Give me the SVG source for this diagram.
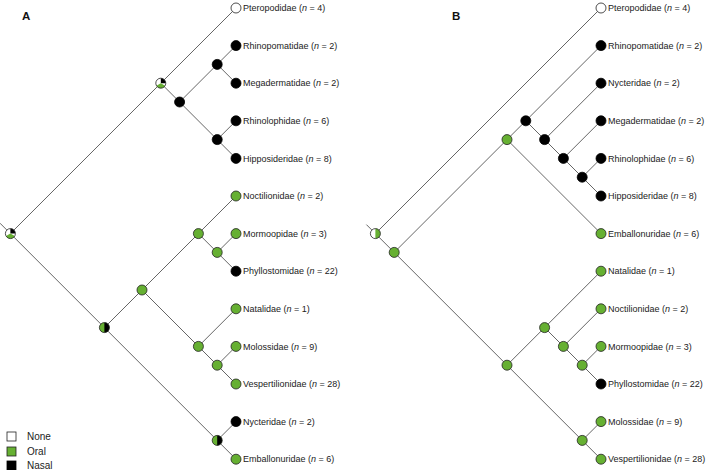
<svg xmlns="http://www.w3.org/2000/svg" xmlns:xlink="http://www.w3.org/1999/xlink" width="709" height="470" viewBox="0 0 709 470">
<style>
.e{stroke:#555;stroke-width:0.9;fill:none}
.lb{font-family:"Liberation Sans",Arial,sans-serif;font-size:9px;fill:#222}
.lg{font-family:"Liberation Sans",Arial,sans-serif;font-size:10px;fill:#222}
.pn{font-family:"Liberation Sans",Arial,sans-serif;font-size:11.5px;font-weight:bold;fill:#111}
.i{font-style:italic}
.ol{fill:none;stroke:#222;stroke-width:0.8}
</style>
<defs>
<g id="nW"><circle r="5" fill="#fff" stroke="#222" stroke-width="0.8"/></g>
<g id="nG"><circle r="5" fill="#66b032" stroke="#222" stroke-width="0.8"/></g>
<g id="nB"><circle r="5" fill="#000" stroke="#000" stroke-width="0.8"/></g>
<g id="nP3"><circle r="5" fill="#fff"/><path d="M0,0 L0,-5 A5,5 0 0 1 5,0 Z" fill="#000"/><path d="M0,0 L4.33,2.5 A5,5 0 0 1 -4.33,2.5 Z" fill="#66b032"/><circle r="5" class="ol"/></g>
<g id="nGB"><circle r="5" fill="#66b032"/><path d="M0,-5 A5,5 0 0 1 0,5 Z" fill="#000"/><circle r="5" class="ol"/></g>
<g id="nWG"><circle r="5" fill="#fff"/><path d="M0,-5 A5,5 0 0 1 0,5 Z" fill="#66b032"/><circle r="5" class="ol"/></g>
</defs>
<rect width="709" height="470" fill="#fff"/>
<text class="pn" x="22" y="20">A</text>
<text class="pn" x="452" y="20">B</text>
<g id="connectors">
<path class="e" d="M0,223.2 L10.4,233.6 L160.8,83.2 L236,8 M160.8,83.2 L179.6,102 L217.2,64.4 L236,45.6 M217.2,64.4 L236,83.2 M179.6,102 L217.2,139.6 L236,120.8 M217.2,139.6 L236,158.4 M10.4,233.6 L104.4,327.6 L142,290 L198.4,233.6 L236,196 M198.4,233.6 L217.2,252.4 L236,233.6 M217.2,252.4 L236,271.2 M142,290 L198.4,346.4 L236,308.8 M198.4,346.4 L217.2,365.2 L236,346.4 M217.2,365.2 L236,384 M104.4,327.6 L217.2,440.4 L236,421.6 M217.2,440.4 L236,459.2"/>
<path class="e" d="M366.4,224.6 L375.4,233.6 L601,8 M375.4,233.6 L394.2,252.4 L507,139.6 L525.8,120.8 L601,45.6 M525.8,120.8 L544.6,139.6 L601,83.2 M544.6,139.6 L563.4,158.4 L601,120.8 M563.4,158.4 L582.2,177.2 L601,158.4 M582.2,177.2 L601,196 M507,139.6 L601,233.6 M394.2,252.4 L507,365.2 L544.6,327.6 L601,271.2 M544.6,327.6 L563.4,346.4 L601,308.8 M563.4,346.4 L582.2,365.2 L601,346.4 M582.2,365.2 L601,384 M507,365.2 L582.2,440.4 L601,421.6 M582.2,440.4 L601,459.2"/>
</g>
<g id="treeA-internal">
<use id="A-root" xlink:href="#nP3" x="10.4" y="233.6"/>
<use id="A-n4" xlink:href="#nP3" x="160.8" y="83.2"/>
<use id="A-n3" xlink:href="#nB" x="179.6" y="102"/>
<use id="A-n1" xlink:href="#nB" x="217.2" y="64.4"/>
<use id="A-n2" xlink:href="#nB" x="217.2" y="139.6"/>
<use id="A-n11" xlink:href="#nGB" x="104.4" y="327.6"/>
<use id="A-n9" xlink:href="#nG" x="142" y="290"/>
<use id="A-n6" xlink:href="#nG" x="198.4" y="233.6"/>
<use id="A-n5" xlink:href="#nG" x="217.2" y="252.4"/>
<use id="A-n8" xlink:href="#nG" x="198.4" y="346.4"/>
<use id="A-n7" xlink:href="#nG" x="217.2" y="365.2"/>
<use id="A-n10" xlink:href="#nGB" x="217.2" y="440.4"/>
</g>
<g id="A-Pteropodidae"><use xlink:href="#nW" x="236" y="8"/><text class="lb" x="243" y="11.2">Pteropodidae (<tspan class="i">n</tspan> = 4)</text></g>
<g id="A-Rhinopomatidae"><use xlink:href="#nB" x="236" y="45.6"/><text class="lb" x="243" y="48.8">Rhinopomatidae (<tspan class="i">n</tspan> = 2)</text></g>
<g id="A-Megadermatidae"><use xlink:href="#nB" x="236" y="83.2"/><text class="lb" x="243" y="86.4">Megadermatidae (<tspan class="i">n</tspan> = 2)</text></g>
<g id="A-Rhinolophidae"><use xlink:href="#nB" x="236" y="120.8"/><text class="lb" x="243" y="124">Rhinolophidae (<tspan class="i">n</tspan> = 6)</text></g>
<g id="A-Hipposideridae"><use xlink:href="#nB" x="236" y="158.4"/><text class="lb" x="243" y="161.6">Hipposideridae (<tspan class="i">n</tspan> = 8)</text></g>
<g id="A-Noctilionidae"><use xlink:href="#nG" x="236" y="196"/><text class="lb" x="243" y="199.2">Noctilionidae (<tspan class="i">n</tspan> = 2)</text></g>
<g id="A-Mormoopidae"><use xlink:href="#nG" x="236" y="233.6"/><text class="lb" x="243" y="236.8">Mormoopidae (<tspan class="i">n</tspan> = 3)</text></g>
<g id="A-Phyllostomidae"><use xlink:href="#nB" x="236" y="271.2"/><text class="lb" x="243" y="274.4">Phyllostomidae (<tspan class="i">n</tspan> = 22)</text></g>
<g id="A-Natalidae"><use xlink:href="#nG" x="236" y="308.8"/><text class="lb" x="243" y="312">Natalidae (<tspan class="i">n</tspan> = 1)</text></g>
<g id="A-Molossidae"><use xlink:href="#nG" x="236" y="346.4"/><text class="lb" x="243" y="349.6">Molossidae (<tspan class="i">n</tspan> = 9)</text></g>
<g id="A-Vespertilionidae"><use xlink:href="#nG" x="236" y="384"/><text class="lb" x="243" y="387.2">Vespertilionidae (<tspan class="i">n</tspan> = 28)</text></g>
<g id="A-Nycteridae"><use xlink:href="#nB" x="236" y="421.6"/><text class="lb" x="243" y="424.8">Nycteridae (<tspan class="i">n</tspan> = 2)</text></g>
<g id="A-Emballonuridae"><use xlink:href="#nG" x="236" y="459.2"/><text class="lb" x="243" y="462.4">Emballonuridae (<tspan class="i">n</tspan> = 6)</text></g>
<g id="treeB-internal">
<use id="B-root" xlink:href="#nWG" x="375.4" y="233.6"/>
<use id="B-n11" xlink:href="#nG" x="394.2" y="252.4"/>
<use id="B-n5" xlink:href="#nG" x="507" y="139.6"/>
<use id="B-n4" xlink:href="#nB" x="525.8" y="120.8"/>
<use id="B-n3" xlink:href="#nB" x="544.6" y="139.6"/>
<use id="B-n2" xlink:href="#nB" x="563.4" y="158.4"/>
<use id="B-n1" xlink:href="#nB" x="582.2" y="177.2"/>
<use id="B-n10" xlink:href="#nG" x="507" y="365.2"/>
<use id="B-n8" xlink:href="#nG" x="544.6" y="327.6"/>
<use id="B-n7" xlink:href="#nG" x="563.4" y="346.4"/>
<use id="B-n6" xlink:href="#nG" x="582.2" y="365.2"/>
<use id="B-n9" xlink:href="#nG" x="582.2" y="440.4"/>
</g>
<g id="B-Pteropodidae"><use xlink:href="#nW" x="601" y="8"/><text class="lb" x="608" y="11.2">Pteropodidae (<tspan class="i">n</tspan> = 4)</text></g>
<g id="B-Rhinopomatidae"><use xlink:href="#nB" x="601" y="45.6"/><text class="lb" x="608" y="48.8">Rhinopomatidae (<tspan class="i">n</tspan> = 2)</text></g>
<g id="B-Nycteridae"><use xlink:href="#nB" x="601" y="83.2"/><text class="lb" x="608" y="86.4">Nycteridae (<tspan class="i">n</tspan> = 2)</text></g>
<g id="B-Megadermatidae"><use xlink:href="#nB" x="601" y="120.8"/><text class="lb" x="608" y="124">Megadermatidae (<tspan class="i">n</tspan> = 2)</text></g>
<g id="B-Rhinolophidae"><use xlink:href="#nB" x="601" y="158.4"/><text class="lb" x="608" y="161.6">Rhinolophidae (<tspan class="i">n</tspan> = 6)</text></g>
<g id="B-Hipposideridae"><use xlink:href="#nB" x="601" y="196"/><text class="lb" x="608" y="199.2">Hipposideridae (<tspan class="i">n</tspan> = 8)</text></g>
<g id="B-Emballonuridae"><use xlink:href="#nG" x="601" y="233.6"/><text class="lb" x="608" y="236.8">Emballonuridae (<tspan class="i">n</tspan> = 6)</text></g>
<g id="B-Natalidae"><use xlink:href="#nG" x="601" y="271.2"/><text class="lb" x="608" y="274.4">Natalidae (<tspan class="i">n</tspan> = 1)</text></g>
<g id="B-Noctilionidae"><use xlink:href="#nG" x="601" y="308.8"/><text class="lb" x="608" y="312">Noctilionidae (<tspan class="i">n</tspan> = 2)</text></g>
<g id="B-Mormoopidae"><use xlink:href="#nG" x="601" y="346.4"/><text class="lb" x="608" y="349.6">Mormoopidae (<tspan class="i">n</tspan> = 3)</text></g>
<g id="B-Phyllostomidae"><use xlink:href="#nB" x="601" y="384"/><text class="lb" x="608" y="387.2">Phyllostomidae (<tspan class="i">n</tspan> = 22)</text></g>
<g id="B-Molossidae"><use xlink:href="#nG" x="601" y="421.6"/><text class="lb" x="608" y="424.8">Molossidae (<tspan class="i">n</tspan> = 9)</text></g>
<g id="B-Vespertilionidae"><use xlink:href="#nG" x="601" y="459.2"/><text class="lb" x="608" y="462.4">Vespertilionidae (<tspan class="i">n</tspan> = 28)</text></g>
<g id="legend">
<rect x="7" y="432" width="9" height="9" fill="#fff" stroke="#222" stroke-width="0.8"/>
<text class="lg" x="27" y="440">None</text>
<rect x="7" y="447" width="9" height="9" fill="#66b032" stroke="#222" stroke-width="0.8"/>
<text class="lg" x="27" y="455">Oral</text>
<rect x="7" y="461" width="9" height="9" fill="#000" stroke="#000" stroke-width="0.8"/>
<text class="lg" x="27" y="469">Nasal</text>
</g>
</svg>
